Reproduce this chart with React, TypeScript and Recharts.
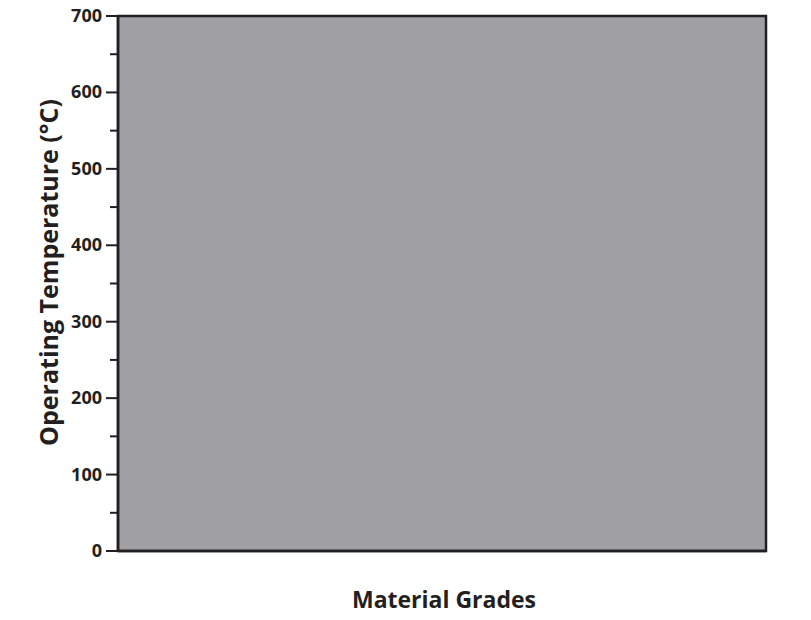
import React from 'react';
import { BarChart, Bar, XAxis, YAxis, ReferenceArea, Label } from 'recharts';

// The reference plots no grades: one unnamed, empty category keeps the axes alive
const grades: string[] = [''];
const temperatures: (number | null)[] = [null];
const yTicks = [0, 50, 100, 150, 200, 250, 300, 350, 400, 450, 500, 550, 600, 650, 700];
const yMajorStep = 100;

const chartData = grades.map((g, i) => ({ grade: g, temp: temperatures[i] }));

const INK = '#231f20';
const FONT = '"Open Sans", "Noto Sans", sans-serif';

function YTick(props: any) {
  const { x, y, payload } = props;
  const major = payload.value % yMajorStep === 0;
  return (
    <g>
      <line x1={x - (major ? 12 : 8)} x2={x} y1={y} y2={y} stroke={INK} strokeWidth={2} />
      {major && (
        <text x={x - 16} y={y} dy={6} textAnchor="end" fontFamily={FONT} fontWeight={700} fontSize={18} fill={INK}>
          {payload.value}
        </text>
      )}
    </g>
  );
}

export default function App() {
  return (
    <div style={{ position: 'absolute', left: 0, top: 0, background: '#fff' }}>
      <BarChart width={811} height={620} data={chartData} margin={{ top: 16, right: 45, bottom: 0, left: 0 }}>
        <ReferenceArea y1={0} y2={700} fill="#a09fa3" fillOpacity={1} stroke={INK} strokeWidth={2.5} ifOverflow="visible" />
        <XAxis dataKey="grade" height={69} tick={false} tickLine={false} axisLine={{ stroke: INK, strokeWidth: 2.5 }}>
          <Label
            content={({ viewBox }: any) => (
              <text x={viewBox.x + viewBox.width / 2 + 2} y={viewBox.y + 57} textAnchor="middle" fontFamily={FONT} fontWeight={700} fontSize={23} fill={INK}>
                Material Grades
              </text>
            )}
          />
        </XAxis>
        <YAxis
          type="number"
          width={118}
          domain={[0, 700]}
          allowDataOverflow
          ticks={yTicks}
          interval={0}
          tickSize={0}
          tickMargin={0}
          tickLine={false}
          tick={(p: any) => <YTick {...p} />}
          axisLine={{ stroke: INK, strokeWidth: 2.5 }}
        >
          <Label
            content={({ viewBox }: any) => {
              const cx = 58;
              const cy = viewBox.y + viewBox.height / 2 - 11;
              return (
                <text x={cx} y={cy} transform={`rotate(-90 ${cx} ${cy})`} textAnchor="middle" fontFamily={FONT} fontWeight={700} fontSize={25} fill={INK}>
                  Operating Temperature (°C)
                </text>
              );
            }}
          />
        </YAxis>
        <Bar dataKey="temp" fill="#555" isAnimationActive={false} />
      </BarChart>
    </div>
  );
}
